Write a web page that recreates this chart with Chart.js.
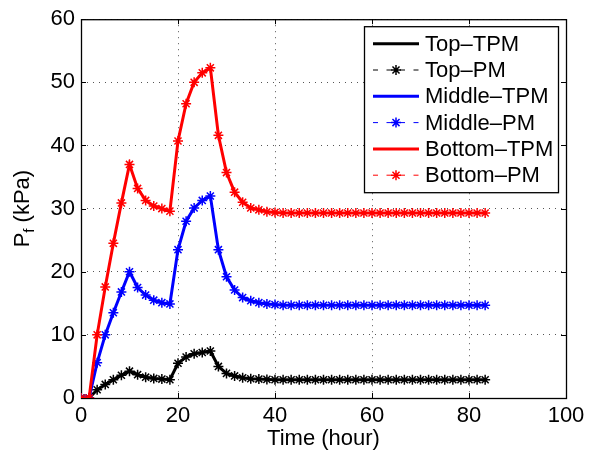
<!DOCTYPE html>
<html>
<head>
<meta charset="utf-8">
<script src="https://cdn.jsdelivr.net/npm/chart.js@4.4.1/dist/chart.umd.min.js"></script>
<style>
  html, body { margin: 0; padding: 0; background: #fff; }
  canvas { display: block; }
</style>
</head>
<body>
<canvas id="pfChart" width="590" height="454"></canvas>
<script>
// time axis (hours), one sample every 5/3 h
const timeHours = [
    0, 1.67, 3.33, 5, 6.67, 8.33, 10, 11.67, 13.33, 15, 16.67, 18.33,
    20, 21.67, 23.33, 25, 26.67, 28.33, 30, 31.67, 33.33, 35, 36.67, 38.33,
    40, 41.67, 43.33, 45, 46.67, 48.33, 50, 51.67, 53.33, 55, 56.67, 58.33,
    60, 61.67, 63.33, 65, 66.67, 68.33, 70, 71.67, 73.33, 75, 76.67, 78.33,
    80, 81.67, 83.33
];

const topTPM = [
    0, 0, 1.3, 2.15, 2.9, 3.6, 4.25, 3.7, 3.3, 3.1, 3.0, 2.9,
    5.5, 6.5, 7.0, 7.2, 7.45, 5.0, 3.9, 3.5, 3.2, 3.05, 3.0, 2.95,
    2.9, 2.9, 2.9, 2.9, 2.9, 2.9, 2.9, 2.9, 2.9, 2.9, 2.9, 2.9,
    2.9, 2.9, 2.9, 2.9, 2.9, 2.9, 2.9, 2.9, 2.9, 2.9, 2.9, 2.9,
    2.9, 2.9, 2.9
];
const middleTPM = [
    0, 0, 5.6, 10.0, 13.5, 16.8, 20.0, 17.5, 16.3, 15.5, 15.1, 14.9,
    23.5, 28.0, 30.1, 31.3, 32.0, 23.5, 19.2, 17.1, 15.9, 15.4, 15.1, 14.9,
    14.8, 14.7, 14.7, 14.7, 14.7, 14.7, 14.7, 14.7, 14.7, 14.7, 14.7, 14.7,
    14.7, 14.7, 14.7, 14.7, 14.7, 14.7, 14.7, 14.7, 14.7, 14.7, 14.7, 14.7,
    14.7, 14.7, 14.7
];
const bottomTPM = [
    0, 0, 10.0, 17.6, 24.5, 30.9, 37.0, 33.2, 31.3, 30.4, 30.0, 29.6,
    40.7, 46.6, 50.0, 51.5, 52.3, 41.6, 35.7, 32.6, 31.0, 30.1, 29.8, 29.5,
    29.4, 29.3, 29.3, 29.3, 29.3, 29.3, 29.3, 29.3, 29.3, 29.3, 29.3, 29.3,
    29.3, 29.3, 29.3, 29.3, 29.3, 29.3, 29.3, 29.3, 29.3, 29.3, 29.3, 29.3,
    29.3, 29.3, 29.3
];
// the PM curves sit right on top of the TPM curves in the picture
const topPM = topTPM.slice();
const middlePM = middleTPM.slice();
const bottomPM = bottomTPM.slice();

const xTicks = [0, 20, 40, 60, 80, 100];
const yTicks = [0, 10, 20, 30, 40, 50, 60];

const FONT = "'Liberation Sans', Arial, Helvetica, sans-serif";
Chart.defaults.font.family = FONT;
Chart.defaults.font.size = 22;
Chart.defaults.color = '#000';

function pairs(values) {
    return values.map((v, i) => ({ x: timeHours[i], y: v }));
}

function tpm(label, color, values) {
    return {
        label: label, data: pairs(values),
        borderColor: color, backgroundColor: color,
        borderWidth: 3, pointRadius: 0, tension: 0,
        isPM: false
    };
}

function pm(label, color, values) {
    return {
        label: label, data: pairs(values),
        borderColor: color, backgroundColor: color,
        borderWidth: 1, borderDash: [6, 6], tension: 0,
        pointStyle: 'star', pointRadius: 5, pointBorderWidth: 1.5,
        pointBorderColor: color, pointBackgroundColor: color,
        isPM: true
    };
}

const datasets = [
    tpm('Top\u2013TPM', '#000000', topTPM),
    pm('Top\u2013PM', '#000000', topPM),
    tpm('Middle\u2013TPM', '#0000ff', middleTPM),
    pm('Middle\u2013PM', '#0000ff', middlePM),
    tpm('Bottom\u2013TPM', '#ff0000', bottomTPM),
    pm('Bottom\u2013PM', '#ff0000', bottomPM)
];
// matlab plots later lines on top
datasets.forEach((d, i) => { d.order = datasets.length - i; });

// box, inward ticks, y label with subscript, legend inside the axes
const matlabAxes = {
    id: 'matlabAxes',
    beforeDatasetsDraw(chart) {
        const { ctx, chartArea: a, scales } = chart;
        ctx.save();
        ctx.strokeStyle = '#000';
        ctx.lineWidth = 1;
        ctx.beginPath();
        xTicks.forEach(v => {
            const x = Math.round(scales.x.getPixelForValue(v)) + 0.5;
            ctx.moveTo(x, a.bottom); ctx.lineTo(x, a.bottom - 5);
            ctx.moveTo(x, a.top); ctx.lineTo(x, a.top + 5);
        });
        yTicks.forEach(v => {
            const y = Math.round(scales.y.getPixelForValue(v)) + 0.5;
            ctx.moveTo(a.left, y); ctx.lineTo(a.left + 5, y);
            ctx.moveTo(a.right, y); ctx.lineTo(a.right - 5, y);
        });
        ctx.stroke();
        ctx.lineWidth = 1.3;
        ctx.strokeRect(a.left + 0.5, a.top + 0.5, a.right - a.left, a.bottom - a.top);
        ctx.restore();
    },
    afterDraw(chart) {
        const { ctx, chartArea: a } = chart;
        ctx.save();

        // y axis title: P_f (kPa)
        ctx.translate(23, (a.top + a.bottom) / 2);
        ctx.rotate(-Math.PI / 2);
        ctx.fillStyle = '#000';
        ctx.textBaseline = 'middle';
        ctx.font = '22px ' + FONT;
        const wP = ctx.measureText('P').width;
        const wRest = ctx.measureText(' (kPa)').width;
        ctx.font = '15px ' + FONT;
        const wf = ctx.measureText('f').width;
        let x0 = -(wP + wf + wRest) / 2;
        ctx.font = '22px ' + FONT;
        ctx.fillText('P', x0, 0);
        ctx.font = '15px ' + FONT;
        ctx.fillText('f', x0 + wP, 7);
        ctx.font = '22px ' + FONT;
        ctx.fillText(' (kPa)', x0 + wP + wf, 0);
        ctx.restore();

        // legend
        const box = { left: a.right - 202, top: a.top + 7, width: 194, height: 166 };
        const rowH = 26.3;
        ctx.save();
        ctx.fillStyle = '#fff';
        ctx.fillRect(box.left, box.top, box.width, box.height);
        ctx.strokeStyle = '#000';
        ctx.lineWidth = 1.3;
        ctx.strokeRect(box.left + 0.5, box.top + 0.5, box.width, box.height);
        ctx.font = '22px ' + FONT;
        ctx.textBaseline = 'middle';
        chart.data.datasets.forEach((d, i) => {
            const y = box.top + 17.5 + i * rowH;
            const x1 = box.left + 9, x2 = box.left + 55;
            ctx.strokeStyle = d.borderColor;
            ctx.beginPath();
            if (d.isPM) {
                ctx.lineWidth = 1;
                ctx.setLineDash([5, 8.5]);
            } else {
                ctx.lineWidth = 3;
                ctx.setLineDash([]);
            }
            ctx.moveTo(x1, y); ctx.lineTo(x2, y);
            ctx.stroke();
            ctx.setLineDash([]);
            if (d.isPM) {
                ctx.lineWidth = 1.5;
                Chart.helpers.drawPoint(ctx, { pointStyle: 'star', radius: 5, borderWidth: 1.5 }, (x1 + x2) / 2, y);
            }
            ctx.fillStyle = '#000';
            ctx.fillText(d.label, box.left + 61, y + 1);
        });
        ctx.restore();
    }
};

new Chart(document.getElementById('pfChart'), {
    type: 'line',
    data: { datasets: datasets },
    options: {
        responsive: false,
        animation: false,
        layout: { padding: { left: 0, top: 17, right: 24, bottom: 0 } },
        plugins: {
            legend: { display: false },
            tooltip: { enabled: false }
        },
        scales: {
            x: {
                type: 'linear', min: 0, max: 100,
                afterBuildTicks: s => { s.ticks = xTicks.map(v => ({ value: v })); },
                afterFit: s => { s.height = 56; },
                ticks: { padding: 5, maxRotation: 0, font: { size: 22 } },
                grid: { color: '#555', lineWidth: 1, drawTicks: false },
                border: { display: false, dash: [1, 5] },
                title: { display: true, text: 'Time (hour)', font: { size: 22 }, padding: { top: 0, bottom: 2 } }
            },
            y: {
                type: 'linear', min: 0, max: 60,
                afterBuildTicks: s => { s.ticks = yTicks.map(v => ({ value: v })); },
                afterFit: s => { s.width = 81; },
                ticks: { padding: 6, font: { size: 22 } },
                grid: { color: '#555', lineWidth: 1, drawTicks: false },
                border: { display: false, dash: [1, 5] }
            }
        }
    },
    plugins: [matlabAxes]
});
</script>
</body>
</html>
